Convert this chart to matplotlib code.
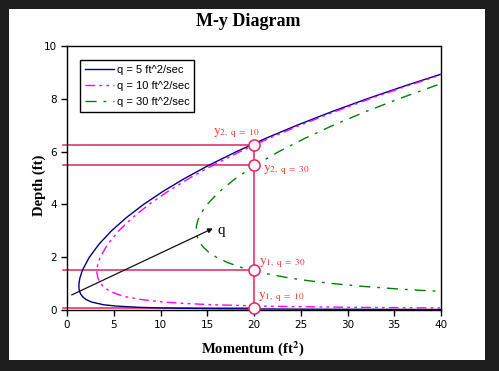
import numpy as np
import matplotlib.pyplot as plt
from matplotlib.patches import Rectangle

# depth (ft) and momentum (ft^2), one pair of lists per discharge
y5 = [0.019, 0.02, 0.03, 0.05, 0.08, 0.1, 0.15, 0.2, 0.3, 0.4, 0.5, 0.6, 0.7, 0.8, 0.9, 1.0,
      1.2, 1.5, 2.0, 2.5, 3.0, 3.5, 4.0, 4.5, 5.0, 5.5, 6.0, 6.5, 7.0, 7.5, 8.0, 8.5, 9.0]
m5 = [40.86, 38.8, 25.88, 15.53, 9.71, 7.77, 5.19, 3.90, 2.63, 2.02, 1.68, 1.47, 1.35, 1.29, 1.27, 1.28,
      1.37, 1.64, 2.39, 3.44, 4.76, 6.35, 8.19, 10.30, 12.66, 15.27, 18.13, 21.24, 24.61, 28.23, 32.10, 36.22, 40.59]

y10 = [0.075, 0.08, 0.1, 0.12, 0.15, 0.2, 0.25, 0.3, 0.4, 0.5, 0.6, 0.7, 0.8, 0.9, 1.0, 1.2, 1.4,
       1.6, 1.8, 2.0, 2.5, 3.0, 3.5, 4.0, 4.5, 5.0, 5.5, 6.0, 6.5, 7.0, 7.5, 8.0, 8.5, 9.0]
m10 = [41.41, 38.82, 31.06, 25.89, 20.71, 15.55, 12.45, 10.40, 7.84, 6.34, 5.36, 4.68, 4.20, 3.86, 3.61, 3.31, 3.20,
       3.22, 3.35, 3.55, 4.37, 5.54, 7.01, 8.78, 10.82, 13.12, 15.69, 18.52, 21.60, 24.94, 28.54, 32.39, 36.49, 40.85]

y30 = [0.68, 0.7, 0.75, 0.8, 0.9, 1.0, 1.1, 1.2, 1.4, 1.6, 1.8, 2.0, 2.2, 2.4, 2.6, 2.8, 3.0, 3.2,
       3.4, 3.6, 3.8, 4.0, 4.5, 5.0, 5.5, 6.0, 6.5, 7.0, 7.5, 8.0, 8.5, 8.6, 8.7]
m30 = [41.33, 40.18, 37.55, 35.26, 31.46, 28.45, 26.02, 24.01, 20.94, 18.75, 17.15, 15.98, 15.12, 14.53, 14.13, 13.90, 13.82, 13.85,
       14.00, 14.24, 14.58, 14.99, 16.34, 18.09, 20.21, 22.66, 25.43, 28.49, 31.85, 35.49, 39.41, 40.23, 41.06]

# alternate depths at M = 20
m_sel = 20
y_alt = [6.25, 5.5, 1.52, 0.08]
lab_alt = [r'$\mathrm{y}_{\mathrm{2,\ q\ =\ 10}}$', r'$\mathrm{y}_{\mathrm{2,\ q\ =\ 30}}$',
           r'$\mathrm{y}_{\mathrm{1,\ q\ =\ 30}}$', r'$\mathrm{y}_{\mathrm{1,\ q\ =\ 10}}$']
lab_pos = [(15.6, 6.7), (21.0, 5.3), (20.5, 1.78), (20.4, 0.49)]

plt.rcParams['mathtext.fontset'] = 'stix'

fig = plt.figure(figsize=(4.99, 3.71), dpi=100)
fig.patch.set_facecolor('#1e1e1e')
fig.patches.append(Rectangle((9/499, 11/371), 476/499, 351/371, transform=fig.transFigure,
                             facecolor='white', edgecolor='none', zorder=-10))

ax = fig.add_axes([67/499, 61/371, 374/499, 264/371])

rojo = '#e0245e'
for ya in y_alt:
    ax.plot([-0.45, m_sel], [ya, ya], color=rojo, lw=1.1, clip_on=False, zorder=2)
ax.plot([m_sel, m_sel], [y_alt[-1], y_alt[0]], color=rojo, lw=1.1, zorder=2)

ax.plot(m5, y5, color='#000080', lw=1.0, label='q = 5 ft^2/sec', zorder=3)
ax.plot(m10, y10, color='#ff00ff', lw=1.0, dashes=(7, 3, 2, 3, 2, 3), label='q = 10 ft^2/sec', zorder=3)
ax.plot(m30, y30, color='#008000', lw=1.0, dashes=(8, 5, 2, 5), label='q = 30 ft^2/sec', zorder=3)

ax.plot([m_sel]*len(y_alt), y_alt, 'o', ms=8, mfc='white', mec=rojo, mew=1.1, zorder=4, clip_on=False)
for t, (px, py) in zip(lab_alt, lab_pos):
    ax.text(px, py, t, color='#ff3030', fontsize=9.5, va='center', ha='left', zorder=5)

ax.annotate('', xy=(15.6, 3.09), xytext=(0.5, 0.57),
            arrowprops=dict(arrowstyle='-|>', color='#111111', lw=0.9, mutation_scale=7, shrinkA=0, shrinkB=0))
ax.text(16.1, 3.0, 'q', fontsize=11, family='Liberation Serif', va='center', ha='left')

ax.set_xlim(0, 40)
ax.set_ylim(0, 10)
ax.set_xticks(np.arange(0, 41, 5))
ax.set_yticks(np.arange(0, 11, 2))
ax.tick_params(direction='out', length=4, width=1, labelsize=7.5, pad=3)
for s in ax.spines.values():
    s.set_linewidth(1.0)

leg = ax.legend(loc='upper left', bbox_to_anchor=(13/374, 250/264), borderaxespad=0, handlelength=2.6,
                handletextpad=0.25, borderpad=0.45, labelspacing=0.55, fancybox=False, framealpha=1,
                edgecolor='black', prop={'family': 'Liberation Sans', 'size': 8})
leg.get_frame().set_linewidth(1.0)

fig.text(0.498, 1 - 21/371, 'M-y Diagram', ha='center', va='center', fontsize=13,
         fontweight='bold', family='Liberation Serif')
fig.text(39/499, 1 - 185/371, 'Depth (ft)', rotation=90, ha='center', va='center', fontsize=10.5,
         fontweight='bold', family='Liberation Serif')
fig.text(253/499, 1 - 349/371, r'Momentum (ft$^\mathbf{2}$)', ha='center', va='center', fontsize=10.5,
         fontweight='bold', family='Liberation Serif')

fig.savefig('out.png', dpi=100, facecolor=fig.get_facecolor())
